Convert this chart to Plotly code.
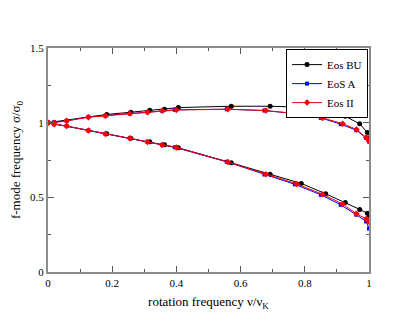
"""f-mode frequency vs rotation frequency for three equations of state."""

import plotly.graph_objects as go

# Eos BU (black circles)
bu_x = [0.0, 0.183, 0.258, 0.317, 0.363, 0.406, 0.571, 0.692, 0.789, 0.865, 0.926, 0.971, 0.995, 1.0]
bu_upper = [1.0, 1.055, 1.070, 1.083, 1.090, 1.101, 1.110, 1.110, 1.104, 1.070, 1.043, 0.992, 0.934, 0.888]
bu_lower = [1.0, 0.925, 0.896, 0.872, 0.852, 0.832, 0.731, 0.655, 0.593, 0.524, 0.466, 0.419, 0.393, 0.379]

# EoS A (blue squares)
a_x = [0.0, 0.019, 0.058, 0.126, 0.179, 0.255, 0.31, 0.356, 0.395, 0.557, 0.674, 0.769, 0.850, 0.912, 0.960, 0.991, 1.0]
a_upper = [1.0, 1.003, 1.012, 1.039, 1.046, 1.061, 1.070, 1.079, 1.086, 1.090, 1.081, 1.061, 1.032, 0.990, 0.950, 0.898, 0.874]
a_lower = [1.0, 0.990, 0.977, 0.948, 0.925, 0.896, 0.872, 0.852, 0.835, 0.738, 0.653, 0.587, 0.517, 0.450, 0.384, 0.339, 0.292]

# Eos II (red diamonds)
ii_x = [0.0, 0.019, 0.058, 0.126, 0.179, 0.255, 0.31, 0.356, 0.40, 0.56, 0.679, 0.775, 0.855, 0.918, 0.961, 0.991, 1.0]
ii_upper = [1.0, 1.0, 1.012, 1.036, 1.046, 1.061, 1.070, 1.079, 1.085, 1.090, 1.081, 1.060, 1.032, 0.993, 0.955, 0.900, 0.875]
ii_lower = [1.0, 0.990, 0.977, 0.947, 0.924, 0.895, 0.871, 0.851, 0.833, 0.737, 0.655, 0.590, 0.520, 0.455, 0.390, 0.355, 0.337]

series = [
    ("Eos BU", bu_x, bu_upper, bu_lower, "black", "circle", 5),
    ("EoS A", a_x, a_upper, a_lower, "#0000ff", "square", 4),
    ("Eos II", ii_x, ii_upper, ii_lower, "#ff0000", "diamond", 5),
]

fig = go.Figure()
for name, xs, up, lo, color, symbol, size in series:
    # upper and lower branch in one trace, split by a gap
    fig.add_trace(go.Scatter(
        x=xs + [None] + xs,
        y=up + [None] + lo,
        mode="lines+markers",
        name=name,
        line=dict(color=color, width=1),
        marker=dict(color=color, symbol=symbol, size=size),
    ))

axis_common = dict(
    showgrid=False,
    zeroline=False,
    showline=True,
    linecolor="#8c8c8c",
    linewidth=2,
    mirror="ticks",
    ticks="inside",
    ticklen=6,
    tickcolor="#555555",
    automargin=False,
    tickfont=dict(family="Liberation Serif", size=11, color="black"),
)

# page body has an 8px margin, so the figure is 8px smaller than the window
fig.update_layout(
    width=407,
    height=313,
    margin=dict(l=40, r=46, t=40, b=49),
    paper_bgcolor="white",
    plot_bgcolor="white",
    font=dict(family="Liberation Serif", color="black"),
    xaxis=dict(
        range=[0, 1],
        dtick=0.2,
        minor=dict(dtick=0.1, ticks="inside", ticklen=3, tickcolor="#555555"),
        title=dict(text="rotation frequency ν/ν<sub>K</sub>", font=dict(size=13), standoff=9),
        **axis_common,
    ),
    yaxis=dict(
        range=[0, 1.5],
        dtick=0.5,
        minor=dict(dtick=0.25, ticks="inside", ticklen=3, tickcolor="#555555"),
        title=dict(text="f-mode frequency σ/σ<sub>0</sub>", font=dict(size=13), standoff=8),
        **axis_common,
    ),
    legend=dict(
        x=0.997,
        y=0.995,
        xanchor="right",
        yanchor="top",
        bgcolor="white",
        bordercolor="black",
        borderwidth=1,
        font=dict(family="Liberation Serif", size=11),
        itemwidth=30,
        tracegroupgap=0,
    ),
    showlegend=True,
)

fig.write_html("out.html")
